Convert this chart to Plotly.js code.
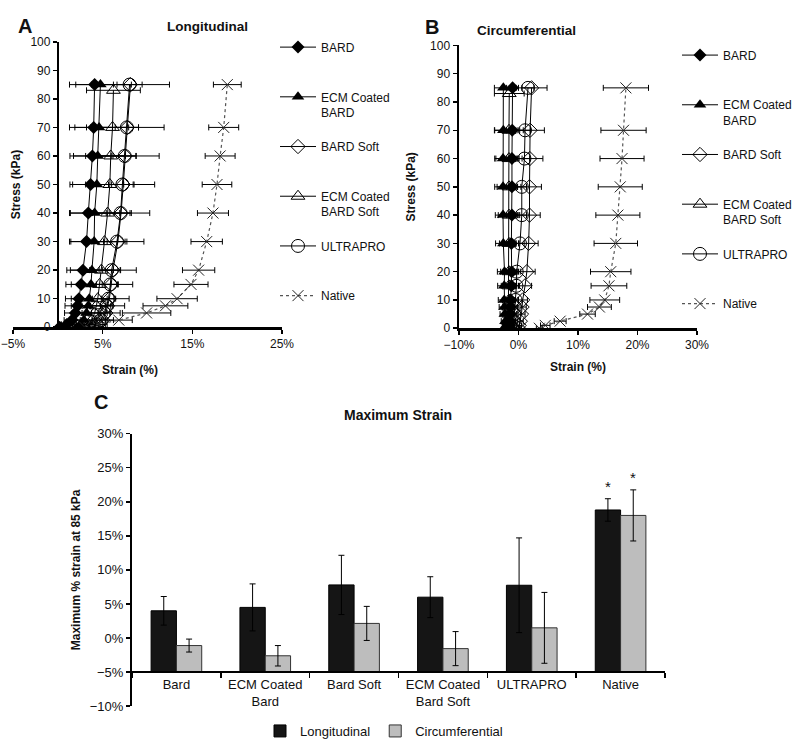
<!DOCTYPE html>
<html>
<head>
<meta charset="utf-8">
<script src="https://cdn.plot.ly/plotly-3.0.1.min.js"></script>
<style>html,body{margin:0;padding:0;background:#fff;}#chart{width:800px;height:746px;}</style>
</head>
<body>
<div id="chart"></div>
<script>
// ---------------- DATA ----------------
const stressLevels = [0, 1, 2.5, 5, 7.5, 10, 15, 20, 30, 40, 50, 60, 70, 85];
const stressEcmSoft = [0, 1, 2.5, 5, 7.5, 10, 15, 20, 30, 40, 50, 60, 70, 83];

// Panel A: Longitudinal strain (%)
const longBard        = [0.2, 1.0, 1.6, 1.95, 2.2, 2.35, 2.6, 2.8, 3.2, 3.4, 3.65, 3.85, 4.0, 4.1];
const longBardErr     = [0.3, 0.6, 0.9, 1.2, 1.4, 1.5, 1.7, 1.8, 1.9, 2.0, 2.0, 2.1, 2.1, 2.1];
const longEcmBard     = [2.1, 2.5, 2.9, 3.2, 3.4, 3.5, 3.7, 3.8, 4.05, 4.1, 4.35, 4.45, 4.6, 4.75];
const longEcmBardErr  = [0.5, 0.8, 1.2, 1.6, 1.9, 2.0, 2.2, 2.4, 2.6, 2.8, 3.0, 3.1, 3.3, 3.45];
const longBardSoft    = [4.0, 4.5, 5.0, 5.35, 5.55, 5.75, 5.95, 6.15, 6.7, 7.05, 7.3, 7.5, 7.75, 8.1];
const longBardSoftErr = [0.5, 0.8, 1.2, 1.6, 1.9, 2.2, 2.4, 2.6, 2.9, 3.2, 3.5, 3.8, 4.1, 4.35];
const longEcmSoft     = [3.0, 3.4, 3.8, 4.1, 4.3, 4.45, 4.65, 4.85, 5.2, 5.55, 5.8, 5.9, 6.1, 6.2];
const longEcmSoftErr  = [0.5, 0.8, 1.1, 1.4, 1.6, 1.8, 2.0, 2.1, 2.3, 2.5, 2.7, 2.8, 2.9, 3.0];
const longUltrapro    = [3.8, 4.3, 4.8, 5.2, 5.45, 5.65, 5.85, 6.0, 6.6, 7.0, 7.2, 7.45, 7.7, 8.0];
const longUltraproErr = [0.3, 0.4, 0.5, 0.6, 0.7, 0.8, 0.9, 1.0, 1.1, 1.2, 1.2, 1.3, 1.3, 1.4];
const longNative      = [3.0, 4.5, 6.8, 9.9, 12.0, 13.3, 14.85, 15.7, 16.6, 17.3, 17.75, 18.1, 18.5, 18.9];
const longNativeErr   = [0.5, 1.0, 1.5, 2.7, 2.5, 2.25, 1.9, 1.8, 1.75, 1.73, 1.65, 1.67, 1.67, 1.55];

// Panel B: Circumferential strain (%)
const circBard        = [-1.5, -1.5, -1.45, -1.4, -1.35, -1.3, -1.2, -1.15, -1.2, -1.1, -1.1, -1.1, -1.05, -1.0];
const circBardErr     = [0.3, 0.3, 0.4, 0.5, 0.5, 0.6, 0.7, 0.8, 0.8, 0.9, 0.9, 0.95, 0.95, 1.0];
const circEcmBard     = [-2.0, -2.1, -2.2, -2.3, -2.35, -2.4, -2.4, -2.35, -2.55, -2.6, -2.6, -2.6, -2.55, -2.55];
const circEcmBardErr  = [0.5, 0.6, 0.7, 0.8, 0.9, 1.0, 1.1, 1.2, 1.3, 1.3, 1.4, 1.4, 1.5, 1.5];
const circBardSoft    = [0.0, 0.1, 0.3, 0.5, 0.6, 0.7, 1.1, 1.4, 1.7, 1.85, 1.85, 1.9, 1.95, 2.2];
const circBardSoftErr = [0.3, 0.4, 0.5, 0.6, 0.7, 0.8, 1.1, 1.4, 1.6, 1.8, 2.0, 2.2, 2.4, 2.6];
const circEcmSoft     = [-1.7, -1.7, -1.7, -1.65, -1.65, -1.6, -1.6, -1.6, -1.6, -1.6, -1.6, -1.6, -1.6, -1.55];
const circEcmSoftErr  = [0.4, 0.5, 0.6, 0.8, 1.0, 1.1, 1.3, 1.4, 1.6, 1.8, 2.0, 2.2, 2.4, 2.5];
const circUltrapro    = [-1.0, -0.9, -0.8, -0.7, -0.6, -0.5, -0.35, -0.3, 0.25, 0.55, 0.55, 1.0, 1.1, 1.6];
const circUltraproErr = [0.2, 0.3, 0.3, 0.4, 0.4, 0.5, 0.5, 0.6, 0.7, 0.8, 0.8, 0.9, 0.9, 1.0];
const circNative      = [3.5, 4.5, 7.0, 11.6, 13.6, 14.5, 15.2, 15.5, 16.35, 16.7, 17.1, 17.4, 17.65, 18.05];
const circNativeErr   = [0.5, 0.8, 1.0, 1.3, 2.0, 2.5, 3.0, 3.4, 3.65, 3.7, 3.7, 3.7, 3.8, 3.8];

// Panel C: Maximum strain at 85 kPa (%)
const barCategories = ['Bard', 'ECM Coated<br>Bard', 'Bard Soft', 'ECM Coated<br>Bard Soft', 'ULTRAPRO', 'Native'];
const maxLong    = [4.0, 4.5, 7.8, 6.0, 7.75, 18.8];
const maxLongErr = [2.1, 3.45, 4.35, 3.0, 6.95, 1.65];
const maxCirc    = [-1.1, -2.6, 2.15, -1.55, 1.5, 18.0];
const maxCircErr = [0.95, 1.5, 2.5, 2.5, 5.2, 3.75];
const BAR_BASE = -5;

const legendNames = ['BARD', 'ECM Coated<br>BARD', 'BARD Soft', 'ECM Coated<br>BARD Soft', 'ULTRAPRO', 'Native'];

// ---------------- STYLE ----------------
const W = 800, H = 746;
const FONT = 'Liberation Sans, Arial, sans-serif';
const INK = '#111';
const px = (x) => x / W;
const py = (y) => 1 - y / H;

const markerStyles = [
  {symbol: 'diamond', size: 10, color: '#000'},
  {symbol: 'triangle-up', size: 11, color: '#000'},
  {symbol: 'diamond-open', size: 11, color: '#000', line: {width: 1, color: '#000'}},
  {symbol: 'triangle-up-open', size: 12, color: '#000', line: {width: 1, color: '#000'}},
  {symbol: 'circle-open', size: 13, color: '#000', line: {width: 1, color: '#000'}},
  {symbol: 'x-thin-open', size: 11, color: '#222', line: {width: 1, color: '#222'}}
];
const lineStyles = [
  {color: '#000', width: 1}, {color: '#000', width: 1}, {color: '#000', width: 1},
  {color: '#000', width: 1}, {color: '#000', width: 1}, {color: '#555', width: 1.2, dash: 'dot'}
];

const panelA = [
  [longBard, longBardErr, stressLevels], [longEcmBard, longEcmBardErr, stressLevels],
  [longBardSoft, longBardSoftErr, stressLevels], [longEcmSoft, longEcmSoftErr, stressEcmSoft],
  [longUltrapro, longUltraproErr, stressLevels], [longNative, longNativeErr, stressLevels]
];
const panelB = [
  [circBard, circBardErr, stressLevels], [circEcmBard, circEcmBardErr, stressLevels],
  [circBardSoft, circBardSoftErr, stressLevels], [circEcmSoft, circEcmSoftErr, stressEcmSoft],
  [circUltrapro, circUltraproErr, stressLevels], [circNative, circNativeErr, stressLevels]
];

// every legend entry occupies two text lines so the entries are evenly spaced
const twoLine = (n) => n.indexOf('<br>') >= 0 ? n : n + '<br>&nbsp;';

const traces = [];
function addPanel(series, xa, ya, legendId) {
  series.forEach((s, i) => {
    traces.push({
      type: 'scatter', mode: 'lines+markers',
      x: s[0], y: s[2], xaxis: xa, yaxis: ya,
      name: twoLine(legendNames[i]),
      legend: legendId, legendgroup: legendId + i,
      marker: markerStyles[i], line: lineStyles[i],
      error_x: {type: 'data', array: s[1], visible: true, color: '#000', thickness: 1, width: 3},
      hoverinfo: 'skip'
    });
  });
}
addPanel(panelA, 'x', 'y', 'legend');
addPanel(panelB, 'x2', 'y2', 'legend2');

traces.push({
  type: 'bar', name: 'Longitudinal', x: barCategories,
  y: maxLong.map(v => v - BAR_BASE), base: BAR_BASE,
  xaxis: 'x3', yaxis: 'y3', legend: 'legend3',
  marker: {color: '#151515', line: {color: '#000', width: 1}},
  error_y: {type: 'data', array: maxLongErr, visible: true, color: '#000', thickness: 1, width: 3},
  hoverinfo: 'skip'
});
traces.push({
  type: 'bar', name: 'Circumferential', x: barCategories,
  y: maxCirc.map(v => v - BAR_BASE), base: BAR_BASE,
  xaxis: 'x3', yaxis: 'y3', legend: 'legend3',
  marker: {color: '#bdbdbd', line: {color: '#333', width: 1}},
  error_y: {type: 'data', array: maxCircErr, visible: true, color: '#000', thickness: 1, width: 3},
  hoverinfo: 'skip'
});

// ---------------- LAYOUT ----------------
const axA_x = [13, 282], axA_y = [329, 42];
const axB_x = [459, 697], axB_y = [330, 45.7];
const axC_x = [132, 665], axC_y = [710, 436];
const rangeA = [-5, 25], rangeB = [-10, 30], rangeCy = [-10, 30];

const domAx = [px(axA_x[0]), px(axA_x[1])];
const domAy = [py(axA_y[0]), py(axA_y[1])];
const domCy = [py(axC_y[0]), py(axC_y[1])];
const yPosA = domAx[0] + (0 - rangeA[0]) / (rangeA[1] - rangeA[0]) * (domAx[1] - domAx[0]);
const xPosC = domCy[0] + (BAR_BASE - rangeCy[0]) / (rangeCy[1] - rangeCy[0]) * (domCy[1] - domCy[0]);

const tickFont = {family: FONT, size: 12, color: INK};
const baseAxis = {showgrid: false, zeroline: false, showline: true, linecolor: '#000',
  ticks: 'outside', tickcolor: '#000', ticklen: 4, tickwidth: 1.5, tickfont: tickFont, fixedrange: true};

const legendCommon = {
  font: {family: FONT, size: 12, color: INK}, bgcolor: 'rgba(0,0,0,0)', borderwidth: 0,
  valign: 'top', tracegroupgap: 15.5, itemwidth: 36, traceorder: 'grouped', xanchor: 'left', yanchor: 'top'
};

const layout = {
  width: W, height: H, margin: {l: 0, r: 0, t: 0, b: 0},
  paper_bgcolor: '#fff', plot_bgcolor: 'rgba(0,0,0,0)',
  font: {family: FONT, color: INK},
  barmode: 'group', bargap: 0.43, bargroupgap: 0,
  xaxis: Object.assign({}, baseAxis, {domain: domAx, range: rangeA, anchor: 'y', tick0: -5, dtick: 10,
    ticksuffix: '%', linewidth: 2.5}),
  yaxis: Object.assign({}, baseAxis, {domain: domAy, range: [0, 100], anchor: 'free', position: yPosA,
    dtick: 10, linewidth: 2.5,
    title: {text: '<b>Stress (kPa)</b>', font: {family: FONT, size: 12, color: INK}, standoff: 6}}),
  xaxis2: Object.assign({}, baseAxis, {domain: [px(axB_x[0]), px(axB_x[1])], range: rangeB, anchor: 'y2',
    dtick: 10, ticksuffix: '%', linewidth: 2.5,
    title: {text: '<b>Strain (%)</b>', font: {family: FONT, size: 12, color: INK}, standoff: 12}}),
  yaxis2: Object.assign({}, baseAxis, {domain: [py(axB_y[0]), py(axB_y[1])], range: [0, 100], anchor: 'x2',
    dtick: 10, linewidth: 2.5,
    title: {text: '<b>Stress (kPa)</b>', font: {family: FONT, size: 12, color: INK}, standoff: 12}}),
  xaxis3: Object.assign({}, baseAxis, {domain: [px(axC_x[0]), px(axC_x[1])], type: 'category',
    anchor: 'free', position: xPosC, tickson: 'boundaries', ticklen: 5, linewidth: 2,
    tickfont: {family: FONT, size: 13, color: INK}}),
  yaxis3: Object.assign({}, baseAxis, {domain: domCy, range: rangeCy, anchor: 'x3', dtick: 5,
    ticksuffix: '%', linewidth: 2, tickfont: {family: FONT, size: 13, color: INK},
    title: {text: '<b>Maximum % strain at 85 kPa</b>', font: {family: FONT, size: 12, color: INK}, standoff: 7}}),
  legend: Object.assign({}, legendCommon, {x: px(275), y: py(33)}),
  legend2: Object.assign({}, legendCommon, {x: px(677), y: py(41)}),
  legend3: {orientation: 'h', x: px(384), y: py(735), xanchor: 'center', yanchor: 'middle',
    font: {family: FONT, size: 13, color: INK}, itemwidth: 30, bgcolor: 'rgba(0,0,0,0)'},
  annotations: [
    {text: '<b>A</b>', x: px(16), y: py(13), font: {size: 20}},
    {text: '<b>Longitudinal</b>', x: px(165), y: py(17), font: {size: 13.5}},
    {text: '<b>B</b>', x: px(432), y: py(14), font: {size: 20}},
    {text: '<b>Circumferential</b>', x: px(578), y: py(21), font: {size: 13.5}},
    {text: '<b>Strain (%)</b>', x: px(100), y: py(372), font: {size: 12}},
    {text: '<b>C</b>', x: px(92), y: py(404), font: {size: 20}},
    {text: '<b>Maximum Strain</b>', x: px(398), y: py(417), font: {size: 14}},
    {text: '*', x: barCategories[5], y: maxLong[5] + maxLongErr[5], xref: 'x3', yref: 'y3',
      xshift: -12.5, yshift: 2, yanchor: 'bottom', font: {size: 15}},
    {text: '*', x: barCategories[5], y: maxCirc[5] + maxCircErr[5], xref: 'x3', yref: 'y3',
      xshift: 12.5, yshift: 2, yanchor: 'bottom', font: {size: 15}}
  ].map(a => Object.assign({xref: 'paper', yref: 'paper', showarrow: false}, a,
      {font: Object.assign({family: FONT, color: INK}, a.font)}))
};

Plotly.newPlot('chart', traces, layout, {staticPlot: true, displayModeBar: false});
</script>
</body>
</html>
